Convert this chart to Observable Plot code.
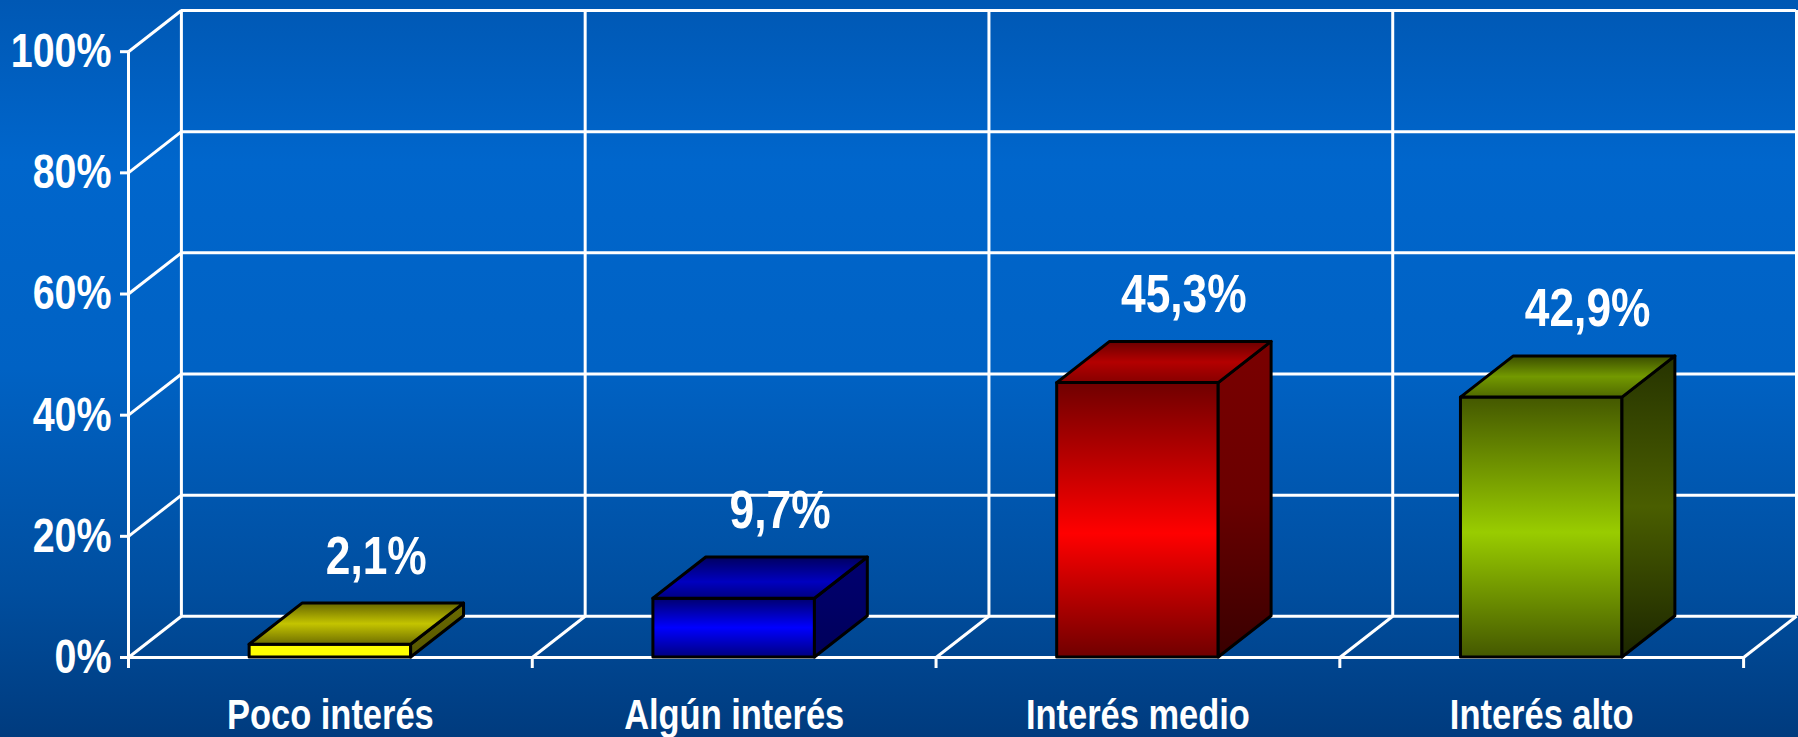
<!DOCTYPE html>
<html><head><meta charset="utf-8">
<script src="https://cdn.jsdelivr.net/npm/d3@7"></script>
<script src="https://cdn.jsdelivr.net/npm/@observablehq/plot@0.6"></script>
<style>html,body{margin:0;padding:0;background:#0059b5;overflow:hidden}</style>
</head><body><div id="chart"></div>
<script>
// ---- data ----
const categories = ["Poco interés", "Algún interés", "Interés medio", "Interés alto"];
const values = [2.1, 9.7, 45.3, 42.9];
const valueLabels = ["2,1%", "9,7%", "45,3%", "42,9%"];
const yTicks = [0, 20, 40, 60, 80, 100];
const yTickLabels = ["0%", "20%", "40%", "60%", "80%", "100%"];

// ---- styling ----
const barColorKeys = ["yellow", "blue", "red", "green"];
const DX = 0.131, DY = 6.8;   // 3D depth offset (in x-category units and % units)
const BAR = 0.4;              // bar width as fraction of category slot
const FONT = "'Liberation Sans Narrow','Arial Narrow','Liberation Sans',Arial,sans-serif";
const NARROW = 0.82;          // horizontal condensing of text (Arial Narrow look)
const W = "white", LW = 3;

const boundaries = d3.range(categories.length + 1);
const bars = categories.map((c, i) => ({
  i, c, v: values[i], label: valueLabels[i],
  x1: i + 0.5 - BAR / 2, x2: i + 0.5 + BAR / 2, key: barColorKeys[i]
}));

const marks = [
  // back wall
  Plot.ruleY(yTicks, {y: d => d + DY, x1: DX, x2: categories.length + DX, stroke: W, strokeWidth: LW}),
  Plot.ruleX(boundaries, {x: d => d + DX, y1: DY, y2: 100 + DY, stroke: W, strokeWidth: LW}),
  // left wall diagonals
  Plot.link(yTicks, {x1: 0, y1: d => d, x2: DX, y2: d => d + DY, stroke: W, strokeWidth: LW}),
  // floor diagonals
  Plot.link(boundaries.slice(1), {x1: d => d, y1: 0, x2: d => d + DX, y2: DY, stroke: W, strokeWidth: LW}),
  // front axis lines
  Plot.ruleX([0], {y1: 0, y2: 100, stroke: W, strokeWidth: LW}),
  Plot.ruleY([0], {x1: 0, x2: categories.length, stroke: W, strokeWidth: LW}),
  Plot.axisY({ticks: yTicks, tickFormat: d => yTickLabels[yTicks.indexOf(d)], tickSize: 8, tickPadding: 9,
    fontSize: 48, fontWeight: "bold", fontFamily: FONT, label: null, stroke: W, strokeWidth: LW, fill: W}),
  Plot.axisX(boundaries, {tickSize: 11, tickFormat: () => "", label: null, stroke: W, strokeWidth: LW}),
  Plot.axisX(categories.map((c, i) => i + 0.5), {tickSize: 0, tickPadding: 42,
    tickFormat: d => categories[Math.floor(d)], fontSize: 42, fontWeight: "bold", fontFamily: FONT,
    label: null, fill: W})
];

for (const b of bars) {
  // front face
  marks.push(Plot.rectY([b], {x1: "x1", x2: "x2", y1: 0, y2: "v",
    fill: `url(#front-${b.key})`, stroke: "black", strokeWidth: LW, strokeLinejoin: "round"}));
  // side face
  marks.push(Plot.areaY([{x: b.x2, y1: 0, y2: b.v}, {x: b.x2 + DX, y1: DY, y2: b.v + DY}],
    {x: "x", y1: "y1", y2: "y2", fill: `url(#side-${b.key})`, stroke: "black", strokeWidth: LW, strokeLinejoin: "round"}));
  // top face
  marks.push(Plot.areaX([{y: b.v, x1: b.x1, x2: b.x2}, {y: b.v + DY, x1: b.x1 + DX, x2: b.x2 + DX}],
    {y: "y", x1: "x1", x2: "x2", fill: `url(#top-${b.key})`, stroke: "black", strokeWidth: LW, strokeLinejoin: "round"}));
}

marks.push(Plot.text(bars, {x: d => d.i + 0.5 + DX, y: d => d.v + DY, text: "label", dy: -30, dx: -7,
  lineAnchor: "bottom", fontSize: 54, fontWeight: "bold", fontFamily: FONT, fill: W}));

const plot = Plot.plot({
  width: 1798, height: 737,
  marginLeft: 128, marginRight: 2, marginTop: 10, marginBottom: 80,
  x: {domain: [0, categories.length + DX]},
  y: {domain: [0, 100 + DY]},
  style: {
    background: "linear-gradient(to bottom, #0058b4 0%, #0066cc 22%, #0062c4 50%, #004e9f 80%, #003b7e 100%)",
    color: "white", fontFamily: FONT, overflow: "visible"
  },
  marks
});

const defs = d3.select(plot).insert("defs", ":first-child");
function grad(id, stops) {
  const g = defs.append("linearGradient").attr("id", id)
    .attr("x1", 0).attr("y1", 0).attr("x2", 0).attr("y2", 1);
  for (const [o, c] of stops) g.append("stop").attr("offset", o).attr("stop-color", c);
}
grad("front-red", [[0, "#700000"], [0.55, "#ff0000"], [1, "#700000"]]);
grad("side-red", [[0, "#7a0000"], [0.5, "#6a0000"], [1, "#380000"]]);
grad("top-red", [[0, "#6a0000"], [0.5, "#b40000"], [1, "#860000"]]);
grad("front-green", [[0, "#445800"], [0.52, "#99cc00"], [1, "#445800"]]);
grad("side-green", [[0, "#263300"], [0.5, "#4a5e00"], [1, "#1c2600"]]);
grad("top-green", [[0, "#3a4c00"], [0.5, "#739900"], [1, "#506a00"]]);
grad("front-blue", [[0, "#00006e"], [0.5, "#0000ff"], [1, "#000080"]]);
grad("side-blue", [[0, "#000070"], [1, "#00005a"]]);
grad("top-blue", [[0, "#000060"], [0.6, "#0000c0"], [1, "#000080"]]);
grad("front-yellow", [[0, "#ffff00"], [1, "#ffff00"]]);
grad("side-yellow", [[0, "#6b6b00"], [1, "#555500"]]);
grad("top-yellow", [[0, "#666600"], [0.5, "#c4c400"], [1, "#6e6e00"]]);

document.getElementById("chart").appendChild(plot);

// condense all text horizontally (Arial Narrow look) keeping each anchor
d3.select(plot).selectAll("text").each(function () {
  const L = this.getComputedTextLength();
  if (L > 0) {
    this.setAttribute("textLength", (L * NARROW).toFixed(2));
    this.setAttribute("lengthAdjust", "spacingAndGlyphs");
  }
});
</script>
</body></html>
